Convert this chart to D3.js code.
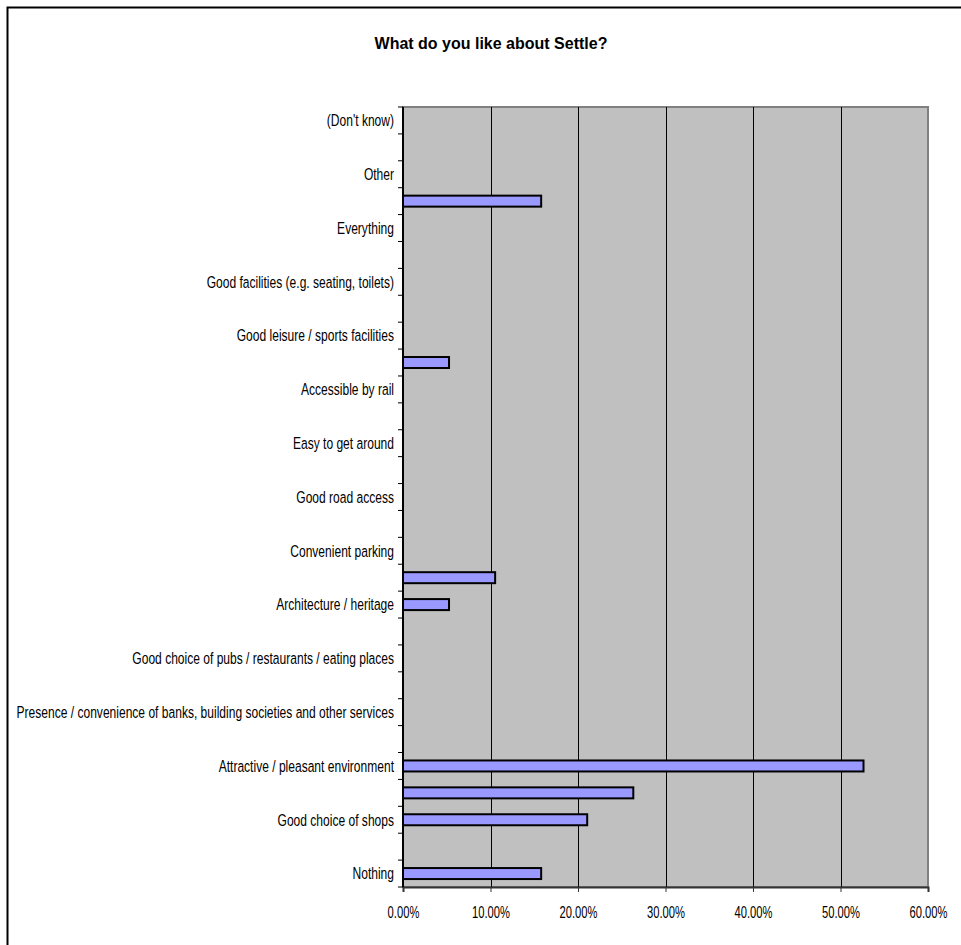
<!DOCTYPE html>
<html>
<head>
<meta charset="utf-8">
<script src="https://cdn.jsdelivr.net/npm/d3@7/dist/d3.min.js"></script>
<style>
  html, body { margin: 0; padding: 0; background: #ffffff; }
  svg { display: block; }
  text { font-family: "Liberation Sans", Arial, sans-serif; }
</style>
</head>
<body>
<svg id="chart" width="961" height="945"></svg>
<script>
// Categories from bottom to top; "" = category whose label Excel skipped
const categories = [
  "Nothing", "",
  "Good choice of shops", "",
  "Attractive / pleasant environment", "",
  "Presence / convenience of banks, building societies and other services", "",
  "Good choice of pubs / restaurants / eating places", "",
  "Architecture / heritage", "",
  "Convenient parking", "",
  "Good road access", "",
  "Easy to get around", "",
  "Accessible by rail", "",
  "Good leisure / sports facilities", "",
  "Good facilities (e.g. seating, toilets)", "",
  "Everything", "",
  "Other", "",
  "(Don't know)"
];
const values = [
  15.79, 0,
  21.05, 26.32,
  52.63, 0,
  0, 0,
  0, 0,
  5.26, 10.53,
  0, 0,
  0, 0,
  0, 0,
  0, 5.26,
  0, 0,
  0, 0,
  0, 15.79,
  0, 0,
  0
];
const xTicks = [0, 10, 20, 30, 40, 50, 60];
const title = "What do you like about Settle?";

const svg = d3.select("#chart");
const plot = { left: 403, right: 928, top: 107, bottom: 887 };

// outer chart border (only top and left are visible)
svg.append("rect").attr("x", 7.5).attr("y", 7.5).attr("width", 1000).attr("height", 1000)
  .attr("fill", "#fff").attr("stroke", "#000").attr("stroke-width", 2);

const x = d3.scaleLinear().domain([0, 60]).range([plot.left, plot.right]);
const idx = d3.range(categories.length);
const y = d3.scaleBand().domain(idx).range([plot.bottom, plot.top]).paddingInner(0).paddingOuter(0);

// plot background
svg.append("rect").attr("x", plot.left).attr("y", plot.top)
  .attr("width", plot.right - plot.left).attr("height", plot.bottom - plot.top)
  .attr("fill", "#c0c0c0").attr("stroke", "#808080").attr("stroke-width", 2);

// gridlines
svg.append("g").selectAll("line").data(xTicks.slice(1, -1)).join("line")
  .attr("x1", d => Math.round(x(d)) + 0.5).attr("x2", d => Math.round(x(d)) + 0.5)
  .attr("y1", plot.top).attr("y2", plot.bottom)
  .attr("stroke", "#000").attr("stroke-width", 1);

// bars
const bh = 11;
svg.append("g").selectAll("rect").data(idx.filter(i => values[i] > 0)).join("rect")
  .attr("x", x(0))
  .attr("y", i => y(i) + y.bandwidth() / 2 - bh / 2)
  .attr("width", i => x(values[i]) - x(0))
  .attr("height", bh)
  .attr("fill", "#9999ff").attr("stroke", "#000").attr("stroke-width", 2);

// x axis
const xAxis = d3.axisBottom(x).tickValues(xTicks).tickSize(5).tickPadding(0)
  .tickFormat(d => d.toFixed(2) + "%");
const gx = svg.append("g").attr("transform", `translate(0,${plot.bottom})`).call(xAxis);
gx.select(".domain").attr("stroke", "#333").attr("stroke-width", 2);
gx.selectAll(".tick line").attr("stroke", "#333");
gx.selectAll(".tick text").attr("fill", "#000").attr("font-size", 16.5)
  .style("font-family", "'Liberation Sans', Arial, sans-serif")
  .attr("y", 31).attr("dy", 0)
  .attr("transform", "scale(0.68,1)");

// y axis: ticks on band boundaries
const boundaries = d3.range(categories.length + 1).map(k => plot.bottom - k * y.step());
const gy = svg.append("g");
gy.append("line").attr("x1", plot.left).attr("x2", plot.left)
  .attr("y1", plot.top).attr("y2", plot.bottom).attr("stroke", "#000").attr("stroke-width", 2);
gy.selectAll("line.tk").data(boundaries).join("line").attr("class", "tk")
  .attr("x1", plot.left - 5).attr("x2", plot.left)
  .attr("y1", d => d).attr("y2", d => d).attr("stroke", "#000").attr("stroke-width", 1);
gy.selectAll("text").data(idx.filter(i => categories[i] !== "")).join("text")
  .attr("transform", i => `translate(${plot.left - 9},${y(i) + y.bandwidth() / 2 + 5.8}) scale(0.73,1)`)
  .attr("text-anchor", "end")
  .attr("font-size", 16.5)
  .text(i => categories[i]);

// title
svg.append("text").attr("transform", "translate(491,49) scale(0.97,1)").attr("text-anchor", "middle")
  .attr("font-size", 16.5).attr("font-weight", "bold")
  .text(title);
</script>
</body>
</html>
